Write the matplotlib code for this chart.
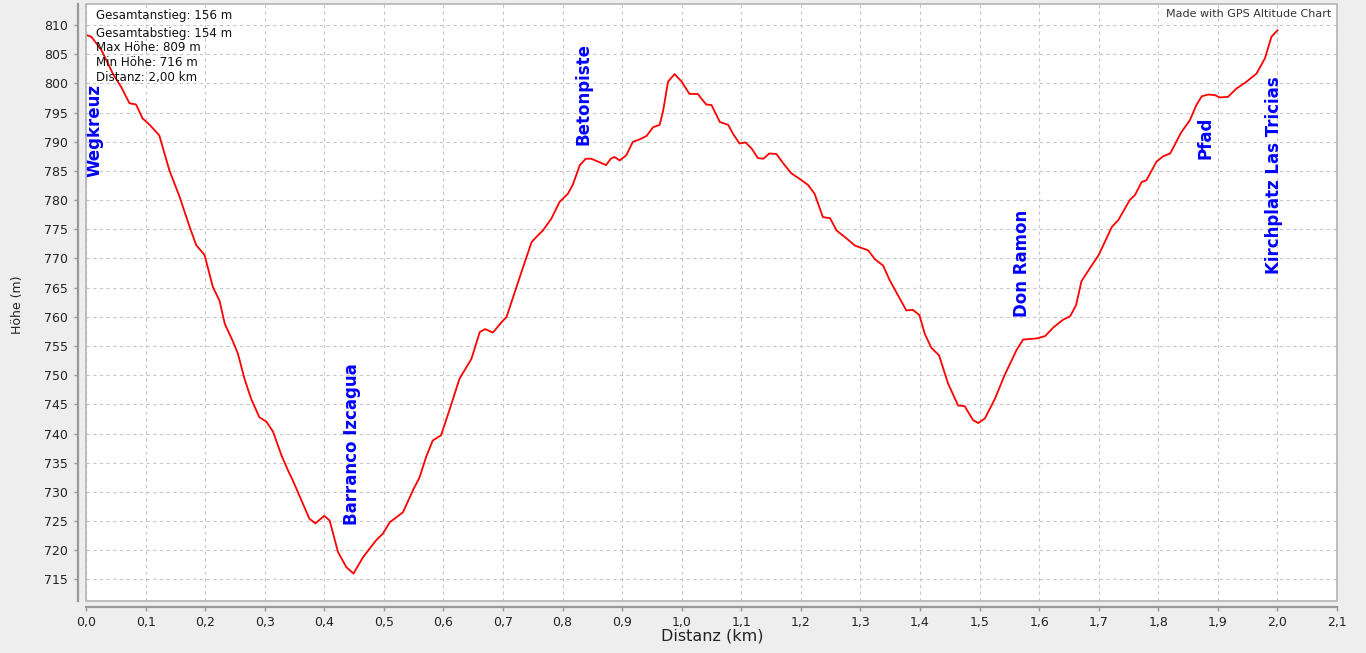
import matplotlib
matplotlib.use("Agg")
import matplotlib.pyplot as plt
from matplotlib.patches import Rectangle
import numpy as np

# --- Höhenprofil ---
dist_km = [0.000, 0.009, 0.026, 0.045, 0.059, 0.073, 0.084, 0.095, 0.107, 0.123,
           0.140, 0.157, 0.174, 0.185, 0.199, 0.213, 0.224, 0.233, 0.247, 0.255,
           0.266, 0.277, 0.291, 0.303, 0.314, 0.328, 0.339, 0.347, 0.364, 0.375,
           0.385, 0.400, 0.409, 0.423, 0.437, 0.449, 0.465, 0.487, 0.498, 0.510,
           0.532, 0.549, 0.560, 0.571, 0.582, 0.596, 0.610, 0.627, 0.647, 0.661,
           0.670, 0.683, 0.697, 0.706, 0.717, 0.734, 0.748, 0.756, 0.767, 0.781,
           0.795, 0.809, 0.817, 0.829, 0.839, 0.848, 0.862, 0.873, 0.881, 0.887,
           0.896, 0.907, 0.918, 0.929, 0.941, 0.952, 0.963, 0.969, 0.977, 0.988,
           1.000, 1.013, 1.027, 1.033, 1.041, 1.050, 1.064, 1.078, 1.086, 1.097,
           1.107, 1.117, 1.128, 1.137, 1.147, 1.159, 1.172, 1.184, 1.200, 1.212,
           1.223, 1.237, 1.249, 1.260, 1.277, 1.291, 1.302, 1.313, 1.324, 1.338,
           1.349, 1.363, 1.377, 1.388, 1.399, 1.408, 1.419, 1.432, 1.447, 1.464,
           1.475, 1.489, 1.498, 1.509, 1.526, 1.542, 1.562, 1.573, 1.596, 1.610,
           1.624, 1.640, 1.652, 1.662, 1.671, 1.685, 1.700, 1.722, 1.733, 1.752,
           1.761, 1.772, 1.780, 1.797, 1.808, 1.820, 1.839, 1.853, 1.864, 1.873,
           1.884, 1.895, 1.903, 1.917, 1.931, 1.948, 1.965, 1.979, 1.990, 2.000]

hoehe_m = [808.3, 808.0, 805.7, 801.7, 799.4, 796.6, 796.4, 794.0, 792.9, 791.1,
           785.1, 780.6, 775.4, 772.3, 770.6, 765.1, 762.8, 758.8, 755.7, 753.7,
           749.4, 746.0, 742.8, 742.0, 740.3, 736.3, 733.7, 732.0, 728.0, 725.4,
           724.6, 725.9, 725.1, 719.7, 717.1, 716.0, 718.8, 721.7, 722.8, 724.8,
           726.5, 730.3, 732.5, 736.0, 738.8, 739.7, 744.0, 749.4, 752.8, 757.4,
           757.9, 757.3, 759.0, 760.0, 763.4, 768.6, 772.8, 773.7, 774.8, 776.8,
           779.7, 781.1, 782.6, 786.0, 787.1, 787.1, 786.5, 786.0, 787.1, 787.4,
           786.8, 787.7, 790.0, 790.4, 791.0, 792.5, 792.9, 795.4, 800.3, 801.6,
           800.3, 798.2, 798.2, 797.4, 796.4, 796.3, 793.4, 792.9, 791.4, 789.7,
           789.9, 788.9, 787.2, 787.1, 788.0, 787.9, 786.1, 784.6, 783.5, 782.6,
           781.1, 777.1, 776.9, 774.8, 773.4, 772.2, 771.8, 771.4, 769.9, 768.8,
           766.3, 763.7, 761.1, 761.2, 760.3, 757.1, 754.7, 753.4, 748.6, 744.8,
           744.7, 742.3, 741.8, 742.6, 746.0, 750.0, 754.3, 756.1, 756.3, 756.7,
           758.2, 759.5, 760.1, 762.0, 766.1, 768.3, 770.6, 775.4, 776.6, 780.0,
           780.9, 783.1, 783.4, 786.6, 787.5, 788.0, 791.7, 793.7, 796.3, 797.8,
           798.1, 798.0, 797.6, 797.7, 799.1, 800.3, 801.7, 804.3, 808.0, 809.1]

# Wegpunkte
wp_names = ["Wegkreuz", "Barranco Izcagua", "Betonpiste", "Don Ramon", "Pfad",
            "Kirchplatz Las Tricias"]
wp_km = [0.014, 0.447, 0.835, 1.572, 1.880, 1.994]
wp_m = [783.9, 724.3, 789.4, 760.0, 787.1, 767.4]

info_lines = ["Gesamtanstieg: 156 m", "Gesamtabstieg: 154 m", "Max Höhe: 809 m",
              "Min Höhe: 716 m", "Distanz: 2,00 km"]

x_ticks = np.round(np.arange(0, 2.11, 0.1), 1)
y_ticks = np.arange(715, 811, 5)

W, H = 1366, 653
fig = plt.figure(figsize=(W / 100, H / 100), dpi=100, facecolor="#EEEEEE")
ax = fig.add_axes([86 / W, 1 - 601 / H, (1337 - 86) / W, (601 - 3.5) / H])
ax.set_facecolor("white")

ax.plot(dist_km, hoehe_m, color="#FF0000", lw=1.3, zorder=3)

for name, xk, ym in zip(wp_names, wp_km, wp_m):
    ax.text(xk, ym, name, rotation=90, ha="center", va="bottom",
            color="#0000FF", fontsize=12.0, fontweight="bold",
            family="DejaVu Sans", zorder=4)

ax.set_xlim(0, 2.1)
ax.set_ylim(711.3, 813.7)
ax.set_xticks(x_ticks)
ax.set_xticklabels([f"{v:.1f}".replace(".", ",") for v in x_ticks])
ax.set_yticks(y_ticks)
ax.set_yticklabels([str(v) for v in y_ticks])

ax.grid(True, color="#C8C8C8", ls=(0, (3, 3)), lw=0.8)
ax.set_axisbelow(True)

for s in ["top", "right"]:
    ax.spines[s].set_visible(False)
ax.spines["left"].set_position(("outward", 6))
ax.spines["bottom"].set_position(("outward", 4))
for s in ["left", "bottom"]:
    ax.spines[s].set_color("#999999")
    ax.spines[s].set_linewidth(1.6)
ax.add_patch(Rectangle((0, 0), 1, 1, transform=ax.transAxes, fill=False,
                       edgecolor="#B4B4B4", lw=1.2, clip_on=False, zorder=5))

ax.tick_params(axis="both", length=3, width=1, color="#999999",
               labelsize=9, labelcolor="#222222")
ax.tick_params(axis="x", pad=3.5)
ax.tick_params(axis="y", pad=4)

fig.text(17 / W, 1 - 305 / H, "Höhe (m)", rotation=90, ha="center", va="center",
         fontsize=9, color="#222222")
fig.text(712 / W, 1 - 636 / H, "Distanz (km)", ha="center", va="center",
         fontsize=11.5, color="#222222")

info_y = [16, 33, 47.5, 62, 77]
for line, yp in zip(info_lines, info_y):
    fig.text(96 / W, 1 - yp / H, line, ha="left", va="center", fontsize=8.6,
             color="#111111")

fig.text(1331 / W, 1 - 14 / H, "Made with GPS Altitude Chart", ha="right",
         va="center", fontsize=8, color="#333333")

fig.savefig("out.png", dpi=100, facecolor=fig.get_facecolor())
